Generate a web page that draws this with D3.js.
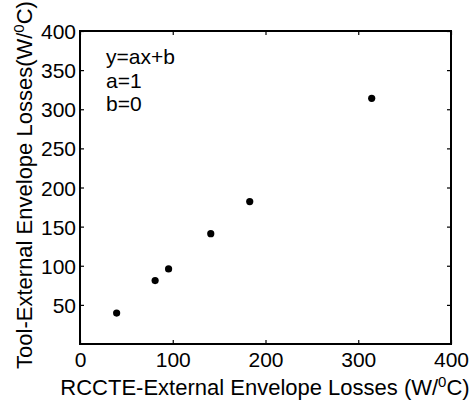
<!DOCTYPE html>
<html>
<head>
<meta charset="utf-8">
<script src="https://cdn.jsdelivr.net/npm/d3@7"></script>
<style>
  body { margin: 0; background: #fff; }
  text { font-family: "Liberation Sans", Arial, sans-serif; fill: #000; }
</style>
</head>
<body>
<svg id="chart" width="470" height="407"></svg>
<script>
// values
let rccte = [39.5, 81, 95.5, 141, 183, 314.5];
let tool  = [39.5, 81, 96, 141, 182, 314];
let xTicks = [0, 100, 200, 300, 400];
let yTicks = [50, 100, 150, 200, 250, 300, 350, 400];
let fitText = ["y=ax+b", "a=1", "b=0"];

let svg = d3.select("#chart");
let plotLeft = 80, plotRight = 451, plotTop = 31, plotBottom = 344;

let x = d3.scaleLinear().domain([0, 400]).range([plotLeft, plotRight]);
let y = d3.scaleLinear().domain([0, 400]).range([plotBottom, plotTop]);

// box
svg.append("rect")
  .attr("x", plotLeft).attr("y", plotTop)
  .attr("width", plotRight - plotLeft).attr("height", plotBottom - plotTop)
  .style("fill", "none")
  .style("stroke", "#000")
  .style("stroke-width", 2);

// bottom axis (inward ticks)
let xAxis = svg.append("g")
  .attr("transform", "translate(0," + plotBottom + ")")
  .call(d3.axisBottom(x).tickValues(xTicks).tickSizeInner(-4).tickSizeOuter(0).tickPadding(8));
xAxis.select(".domain").remove();
xAxis.selectAll("text").style("font-size", "21px");

// top mirror ticks
let xTop = svg.append("g")
  .attr("transform", "translate(0," + plotTop + ")")
  .call(d3.axisTop(x).tickValues(xTicks).tickSizeInner(-4).tickSizeOuter(0).tickFormat(""));
xTop.select(".domain").remove();

// left axis
let yAxis = svg.append("g")
  .attr("transform", "translate(" + plotLeft + ",0)")
  .call(d3.axisLeft(y).tickValues(yTicks).tickSizeInner(-4).tickSizeOuter(0).tickPadding(4));
yAxis.select(".domain").remove();
yAxis.selectAll("text").style("font-size", "21px").attr("dy", "0.36em");

// right mirror ticks
let yRight = svg.append("g")
  .attr("transform", "translate(" + plotRight + ",0)")
  .call(d3.axisRight(y).tickValues(yTicks).tickSizeInner(-4).tickSizeOuter(0).tickFormat(""));
yRight.select(".domain").remove();

svg.selectAll(".tick line").style("stroke", "#000").style("stroke-width", 1.2);
svg.selectAll(".tick text").style("font-family", "Liberation Sans, Arial, sans-serif").style("fill", "#000");

// points
svg.append("g").selectAll("circle")
  .data(rccte)
  .join("circle")
  .attr("cx", d => x(d))
  .attr("cy", (d, i) => y(tool[i]))
  .attr("r", 3.6)
  .style("fill", "#000");

// fit text
let counter = 0;
for (let t of fitText) {
  svg.append("text")
    .attr("x", 106)
    .attr("y", 64 + 23.5 * counter)
    .text(t)
    .style("font-size", "21px");
  counter = counter + 1;
}

// x label
let xl = svg.append("text")
  .attr("x", 265)
  .attr("y", 395)
  .style("font-size", "22px")
  .style("text-anchor", "middle");
xl.append("tspan").text("RCCTE-External Envelope Losses (W/");
xl.append("tspan").text("0").attr("dy", -8).style("font-size", "15px");
xl.append("tspan").text("C)").attr("dy", 8);

// y label
let yl = svg.append("text")
  .attr("transform", "translate(32,185) rotate(-90)")
  .style("font-size", "22px")
  .style("text-anchor", "middle");
yl.append("tspan").text("Tool-External Envelope Losses(W/");
yl.append("tspan").text("0").attr("dy", -8).style("font-size", "15px");
yl.append("tspan").text("C)").attr("dy", 8);
</script>
</body>
</html>
